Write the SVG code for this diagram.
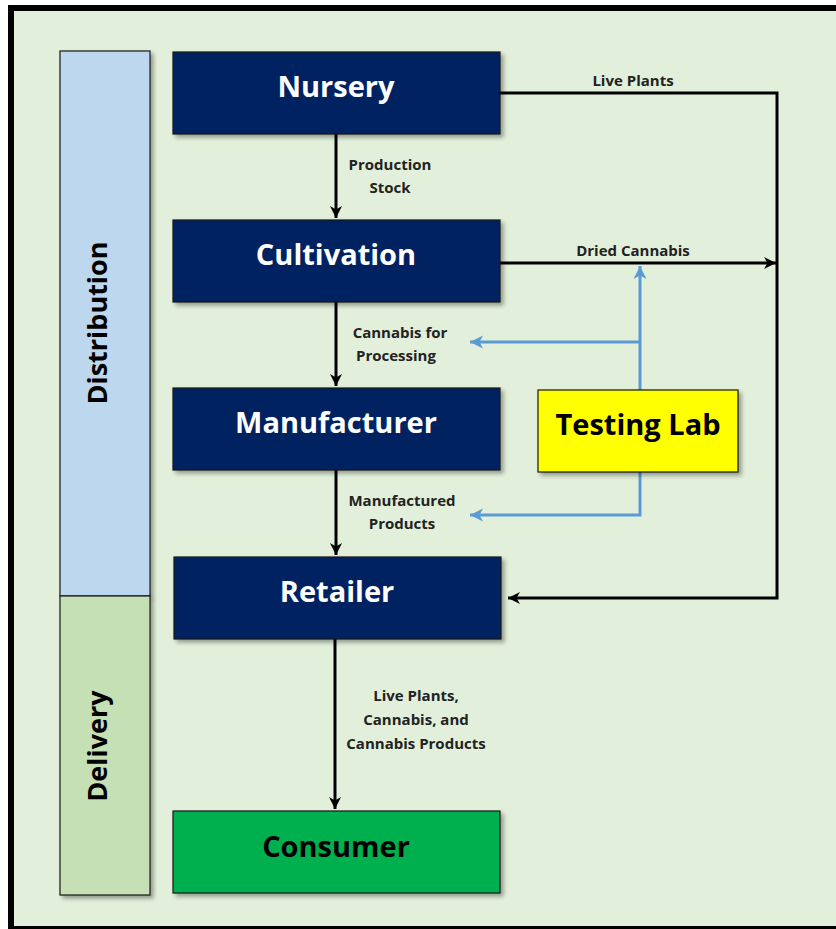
<svg xmlns="http://www.w3.org/2000/svg" width="836" height="929" viewBox="0 0 836 929">
<defs>
<filter id="sh" x="-10%" y="-10%" width="130%" height="130%">
<feGaussianBlur in="SourceAlpha" stdDeviation="2"/>
<feOffset dx="3" dy="3" result="b"/>
<feComponentTransfer><feFuncA type="linear" slope="0.35"/></feComponentTransfer>
<feMerge><feMergeNode/><feMergeNode in="SourceGraphic"/></feMerge>
</filter>
<marker id="ab" markerWidth="14" markerHeight="14" viewBox="0 0 14 14" refX="13" refY="7" orient="auto" markerUnits="userSpaceOnUse">
<path d="M1,1 L13,7 L1,13 L4.5,7 Z" fill="#000"/>
</marker>
<marker id="au" markerWidth="15" markerHeight="15" viewBox="0 0 15 15" refX="14" refY="7.5" orient="auto" markerUnits="userSpaceOnUse">
<path d="M1,1 L14,7.5 L1,14 L4.5,7.5 Z" fill="#5B9BD5"/>
</marker>
</defs>
<style>
.box{stroke:#1a1a1a;stroke-width:1.2;filter:url(#sh)}
.navy{fill:#002060}
.t{font-family:"Open Sans","Noto Sans",sans-serif;font-weight:bold;text-anchor:middle}
.wt{fill:#fff;font-size:29px}
.bt{fill:#000;font-size:29px}
.lbl{font-family:"Open Sans","Noto Sans",sans-serif;font-weight:bold;font-size:15px;fill:#222;text-anchor:middle}
.k{stroke:#000;stroke-width:3;fill:none}
.bl{stroke:#5B9BD5;stroke-width:3;fill:none}
.side{font-family:"Open Sans","Noto Sans",sans-serif;font-weight:bold;font-size:27px;fill:#000;text-anchor:middle}
</style>
<rect x="11" y="8" width="830" height="921" fill="#E2EFDA" stroke="#000" stroke-width="6"/>
<g id="distribution">
<rect class="box" x="60" y="51" width="90" height="545" fill="#BDD7EE"/>
<text class="side" transform="translate(107,323) rotate(-90)">Distribution</text>
</g>
<g id="delivery">
<rect class="box" x="60" y="596" width="90" height="299" fill="#C5E0B4"/>
<text class="side" transform="translate(107,746) rotate(-90)">Delivery</text>
</g>
<g id="connectors">
<line class="k" x1="336" y1="134" x2="336" y2="218" marker-end="url(#ab)"/>
<line class="k" x1="336" y1="302" x2="336" y2="386" marker-end="url(#ab)"/>
<line class="k" x1="336" y1="470" x2="336" y2="555" marker-end="url(#ab)"/>
<line class="k" x1="335" y1="639" x2="335" y2="809" marker-end="url(#ab)"/>
<polyline class="k" points="500,93 777,93 777,598 508,598" marker-end="url(#ab)"/>
<line class="k" x1="500" y1="263" x2="776" y2="263" marker-end="url(#ab)"/>
<line class="bl" x1="640" y1="390" x2="640" y2="266" marker-end="url(#au)"/>
<line class="bl" x1="640" y1="342" x2="470" y2="342" marker-end="url(#au)"/>
<polyline class="bl" points="640,472 640,515 470,515" marker-end="url(#au)"/>
<text class="lbl" x="633" y="86">Live Plants</text>
<text class="lbl" x="633" y="256">Dried Cannabis</text>
<text class="lbl" x="390" y="170">Production</text>
<text class="lbl" x="390" y="193">Stock</text>
<text class="lbl" x="400" y="338">Cannabis for</text>
<text class="lbl" x="396" y="361">Processing</text>
<text class="lbl" x="402" y="506">Manufactured</text>
<text class="lbl" x="402" y="529">Products</text>
<text class="lbl" x="416" y="701">Live Plants,</text>
<text class="lbl" x="416" y="725">Cannabis, and</text>
<text class="lbl" x="416" y="749">Cannabis Products</text>
</g>
<g id="nursery">
<rect class="box navy" x="173" y="52" width="327" height="82"/>
<text class="t wt" x="336" y="97">Nursery</text>
</g>
<g id="cultivation">
<rect class="box navy" x="173" y="220" width="327" height="82"/>
<text class="t wt" x="336" y="265">Cultivation</text>
</g>
<g id="manufacturer">
<rect class="box navy" x="173" y="388" width="327" height="82"/>
<text class="t wt" x="336" y="433">Manufacturer</text>
</g>
<g id="retailer">
<rect class="box navy" x="174" y="557" width="327" height="82"/>
<text class="t wt" x="337" y="602">Retailer</text>
</g>
<g id="consumer">
<rect class="box" x="173" y="811" width="327" height="82" fill="#00B050"/>
<text class="t bt" x="336" y="857">Consumer</text>
</g>
<g id="testing-lab">
<rect class="box" x="538" y="390" width="200" height="82" fill="#FFFF00"/>
<text class="t bt" x="638" y="435">Testing Lab</text>
</g>
</svg>
